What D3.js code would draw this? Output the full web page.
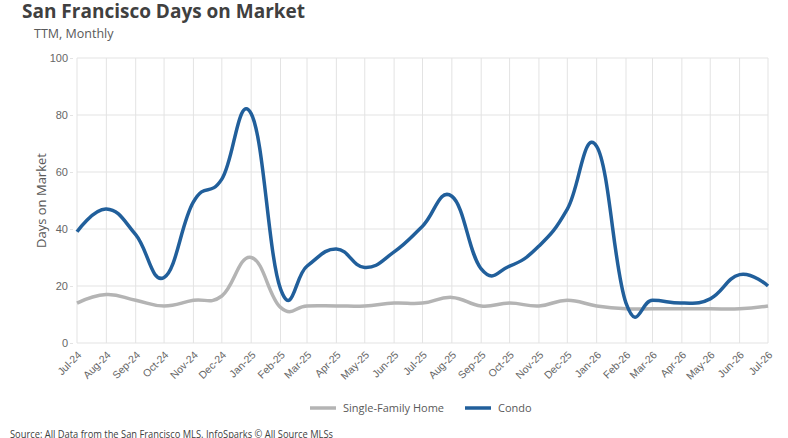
<!DOCTYPE html>
<html>
<head>
<meta charset="utf-8">
<script src="https://cdn.jsdelivr.net/npm/d3@7"></script>
<style>
  html, body { margin: 0; padding: 0; background: #fff; }
  svg { display: block; font-family: "Open Sans", "Noto Sans", sans-serif; }
</style>
</head>
<body>
<svg id="chart" width="788" height="438"></svg>
<script>
const months = ["2024-07","2024-08","2024-09","2024-10","2024-11","2024-12",
  "2025-01","2025-02","2025-03","2025-04","2025-05","2025-06","2025-07","2025-08","2025-09","2025-10","2025-11","2025-12",
  "2026-01","2026-02","2026-03","2026-04","2026-05","2026-06","2026-07"];
const condo = [39, 47, 38, 23, 49.5, 57.5, 80.5, 19, 27, 33, 26.5, 32, 41, 51.5, 26, 27, 34, 47, 69, 14, 15, 14, 15.5, 24, 20];
const singleFamily = [14, 17, 15, 13, 15, 16.5, 30, 12.5, 13, 13, 13, 14, 14, 16, 13, 14, 13, 15, 13, 12, 12, 12, 12, 12, 13];
const yTicks = [0, 20, 40, 60, 80, 100];
const seriesNames = ["Single-Family Home", "Condo"];
const seriesColors = ["#b4b4b4", "#215f9b"];

const parse = d3.timeParse("%Y-%m");
const dates = months.map(parse);
const svg = d3.select("#chart");
const m = { left: 77, right: 20, top: 58, bottom: 95 };
const W = 788, H = 438;

const x = d3.scaleTime().domain(d3.extent(dates)).range([m.left, W - m.right]);
const y = d3.scaleLinear().domain([0, 100]).range([H - m.bottom, m.top]);

// gridlines
const g = svg.append("g");
g.selectAll("line.v").data(dates).join("line")
  .attr("x1", d => x(d)).attr("x2", d => x(d))
  .attr("y1", y(100)).attr("y2", y(0))
  .attr("stroke", "#e3e3e3").attr("stroke-width", 1);
g.selectAll("line.h").data(yTicks).join("line")
  .attr("x1", x(dates[0])).attr("x2", x(dates[dates.length - 1]))
  .attr("y1", d => y(d)).attr("y2", d => y(d))
  .attr("stroke", "#e3e3e3").attr("stroke-width", 1);

// y axis labels
const yAxis = svg.append("g").attr("transform", `translate(${m.left - 4},0)`)
  .call(d3.axisLeft(y).tickValues(yTicks).tickSize(3).tickPadding(2));
yAxis.select(".domain").remove();
yAxis.selectAll(".tick line").attr("stroke", "#e3e3e3");
yAxis.selectAll("text").attr("fill", "#666").style("font-size", "11px");

// x axis labels
const fmt = d3.timeFormat("%b-%y");
const xAxis = svg.append("g").attr("transform", `translate(0,${y(0)})`)
  .call(d3.axisBottom(x).tickValues(dates).tickFormat(fmt).tickSize(0).tickPadding(0));
xAxis.select(".domain").remove();
xAxis.selectAll("text")
  .attr("fill", "#666").style("font-size", "10.5px")
  .attr("text-anchor", "end")
  .attr("dy", "0.35em")
  .attr("transform", "translate(2,10) rotate(-45)");

// lines
const line = d3.line().x((d, i) => x(dates[i])).y(d => y(d)).curve(d3.curveCardinal.tension(-0.3));
[singleFamily, condo].forEach((s, i) => {
  svg.append("path").datum(s).attr("d", line)
    .attr("fill", "none").attr("stroke", seriesColors[i]).attr("stroke-width", 3.5)
    .attr("stroke-linejoin", "round").attr("stroke-linecap", "butt");
});

// titles
svg.append("text").attr("x", 22).attr("y", 18).text("San Francisco Days on Market")
  .attr("fill", "#404040").style("font-size", "19px").style("font-weight", "bold");
svg.append("text").attr("x", 34).attr("y", 38).text("TTM, Monthly")
  .attr("fill", "#595959").style("font-size", "12.5px");
svg.append("text").attr("transform", `translate(46,${(y(0) + y(100)) / 2}) rotate(-90)`)
  .attr("text-anchor", "middle").text("Days on Market")
  .attr("fill", "#595959").style("font-size", "13px");

// legend
const legX = [310, 465];
seriesNames.forEach((n, i) => {
  svg.append("line").attr("x1", legX[i]).attr("x2", legX[i] + 26).attr("y1", 408).attr("y2", 408)
    .attr("stroke", seriesColors[i]).attr("stroke-width", 3.5);
  svg.append("text").attr("x", legX[i] + 33).attr("y", 412).text(n)
    .attr("fill", "#595959").style("font-size", "11px");
});

svg.append("text").attr("x", 10).attr("y", 437.5)
  .attr("textLength", 323).attr("lengthAdjust", "spacingAndGlyphs")
  .text("Source: All Data from the San Francisco MLS. InfoSparks © All Source MLSs")
  .attr("fill", "#404040").style("font-size", "10px");
</script>
</body>
</html>
